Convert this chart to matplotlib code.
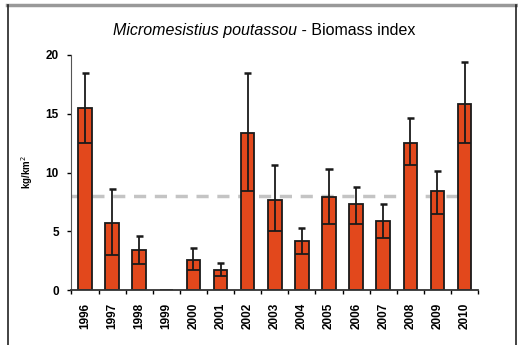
import matplotlib.pyplot as plt
import numpy as np

years = ['1996', '1997', '1998', '1999', '2000', '2001', '2002', '2003',
         '2004', '2005', '2006', '2007', '2008', '2009', '2010']
biomass = [15.5, 5.7, 3.4, 0.0, 2.55, 1.7, 13.4, 7.7, 4.2, 7.95, 7.3, 5.9, 12.5, 8.4, 15.8]
upper = [18.5, 8.6, 4.6, 0.0, 3.6, 2.3, 18.5, 10.6, 5.3, 10.3, 8.8, 7.3, 14.6, 10.1, 19.4]
lower = [12.5, 3.0, 2.2, 0.0, 1.7, 1.2, 8.4, 5.0, 3.1, 5.6, 5.6, 4.4, 10.6, 6.5, 12.5]
mean_level = 8.0

plt.rcParams['font.family'] = ['Liberation Sans', 'DejaVu Sans']

fig = plt.figure(figsize=(5.18, 3.45), dpi=100)
ax = fig.add_axes([0.138, 0.1594, 0.785, 0.6812])

x = np.arange(len(years))
ax.bar(x, biomass, width=0.5, color='#E2481C', edgecolor='#1a1a1a', linewidth=1.3, zorder=2)

has = np.array(upper) > 0
xs = x[has]
ax.vlines(xs, np.array(lower)[has], np.array(upper)[has], color='#1a1a1a', lw=1.3, zorder=3)
ax.hlines(np.array(upper)[has], xs - 0.13, xs + 0.13, color='#1a1a1a', lw=1.8, zorder=3)
ax.hlines(np.array(lower)[has], xs - 0.25, xs + 0.25, color='#1a1a1a', lw=1.3, zorder=3)

ax.hlines(mean_level, -0.5, 14.0, color='#c4c4c4', lw=2.5, linestyles=(0, (3.5, 2.5)), zorder=1)

ax.set_xlim(-0.5, 14.5)
ax.set_ylim(0, 20)
ax.set_yticks([0, 5, 10, 15, 20])
ax.set_xticks(x)
ax.set_xticklabels(years, rotation=90, fontsize=8.5, fontweight='bold')
ax.tick_params(axis='x', which='major', length=0, pad=9)
ax.set_xticks(np.arange(-0.5, 15, 1), minor=True)
ax.tick_params(axis='x', which='minor', length=3, width=1, direction='out')
ax.tick_params(axis='y', length=3, width=1, labelsize=8.5, pad=6)
for t in ax.get_yticklabels():
    t.set_fontweight('bold')

for s in ['top', 'right']:
    ax.spines[s].set_visible(False)
ax.spines['left'].set_color('#555555')
ax.spines['bottom'].set_color('#333333')
ax.spines['bottom'].set_linewidth(1.3)

ax.set_ylabel('kg/km$^2$', fontsize=7, fontweight='bold', labelpad=8)

fig.text(0.574, 0.912, 'Micromesistius poutassou', ha='right', va='center',
         fontsize=11.5, fontstyle='italic')
fig.text(0.574, 0.912, ' - Biomass index', ha='left', va='center', fontsize=11.5)

# outer frame of the original figure
fig.add_artist(plt.Line2D([0.0135, 1.0], [0.985, 0.985], color='#999999', lw=2.5))
fig.add_artist(plt.Line2D([0.0155, 0.0155], [0.0, 0.985], color='#222222', lw=1.2))
fig.add_artist(plt.Line2D([0.996, 0.996], [0.0, 0.985], color='#222222', lw=1.2))

fig.savefig('out.png', dpi=100)
